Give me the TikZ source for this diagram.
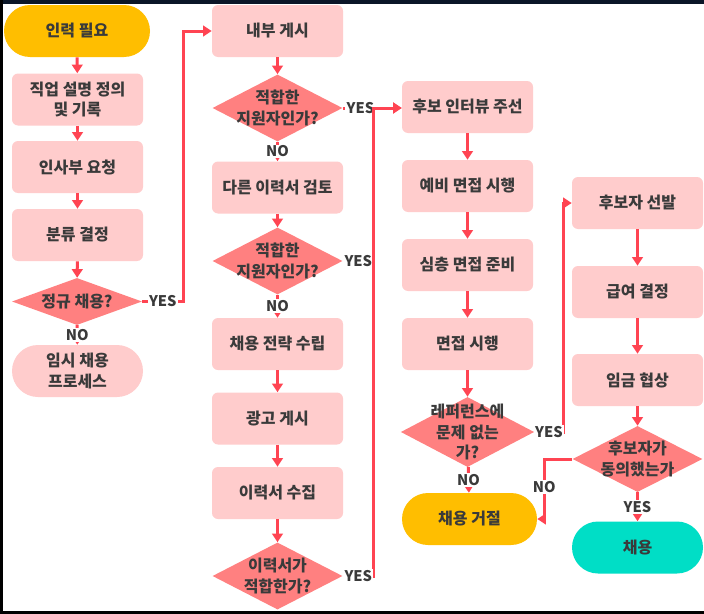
\documentclass[tikz,border=0pt]{standalone}
\usepackage{fontspec}
\setmainfont{Noto Sans CJK KR}
\usetikzlibrary{arrows.meta,shapes.geometric,positioning}
\definecolor{termorange}{RGB}{255,190,0}
\definecolor{boxpink}{RGB}{255,204,204}
\definecolor{decpink}{RGB}{255,128,128}
\definecolor{linered}{RGB}{255,68,82}
\definecolor{hireteal}{RGB}{0,222,198}
\definecolor{txtgray}{RGB}{58,58,58}
\definecolor{topnavy}{RGB}{10,22,40}

\begin{document}
\begin{tikzpicture}[x=0.75pt,y=-0.75pt,font=\fontsize{12}{15.5}\selectfont\bfseries,text=txtgray,
  box/.style={fill=boxpink,rounded corners=4.5pt,minimum width=98.25pt,minimum height=39pt,align=center},
  term/.style={box,rounded corners=19.5pt},
  dec/.style={diamond,fill=decpink,inner sep=0pt,minimum width=97.5pt,minimum height=50.25pt},
  ln/.style={draw=linered,line width=2.25pt},
  arr/.style={ln,-{Triangle[length=6.5pt,width=8pt]}},
  yn/.style={fill=white,inner sep=1pt,font=\fontsize{11}{12}\selectfont\bfseries}]
  \useasboundingbox[fill=white] (0,0) rectangle (704,614);
  \node[term,fill=termorange,minimum width=109.5pt] (need) at (77,31) {인력 필요};
  \foreach \n/\x/\y/\t in {jd/77.5/99.5/{직업 설명 정의\\및 기록},hr/77.5/167/인사부 요청,cls/77.5/235/분류 결정,post/277.5/31/내부 게시,other/277.5/187.5/다른 이력서 검토,strat/277.5/344/채용 전략 수립,ad/277.5/418.5/광고 게시,collect/277.5/493/이력서 수집,arrange/467.5/107/후보 인터뷰 주선,prelim/467.5/186/예비 면접 시행,deep/467.5/265/심층 면접 준비,interview/467.5/344/면접 시행,select/637.5/203/후보자 선발,wage/637.5/292/급여 결정,negot/637.5/380/임금 협상}
    \node[box] (\n) at (\x,\y) {\t};
  \node[dec,minimum height=35.25pt,label={[align=center]center:{정규 채용?}}] (d0) at (77,301.5) {};
  \node[dec,label={[align=center]center:{적합한\\지원자인가?}}] (d1) at (277.5,108) {};
  \node[dec,label={[align=center]center:{적합한\\지원자인가?}}] (d2) at (277.5,261) {};
  \node[dec,label={[align=center]center:{이력서가\\적합한가?}}] (d3) at (277.5,576) {};
  \node[dec,minimum width=100pt,minimum height=52.5pt,label={[align=center]center:{레퍼런스에\\문제 없는\\가?}}] (dref) at (467.5,432) {};
  \node[dec,minimum height=49.5pt,label={[align=center]center:{후보자가\\동의했는가}}] (dagree) at (637.5,459) {};
  \node[term] (temp) at (77.5,371) {임시 채용\\프로세스};
  \node[term,fill=termorange,minimum width=101.25pt] (reject) at (469.5,519) {채용 거절};
  \node[term,fill=hireteal] (hire) at (637.5,547.5) {채용};
  \foreach \a/\b in {need/jd,jd/hr,hr/cls,cls/d0,post/d1,other/d2,strat/ad,ad/collect,collect/d3,arrange/prelim,prelim/deep,deep/interview,interview/dref,select/wage,wage/negot,negot/dagree}
    \draw[arr] (\a) -- (\b);
  \draw[arr] (d0) -- node[yn]{NO} (temp);
  \draw[arr] (d1) -- node[yn]{NO} (other);
  \draw[arr] (d2) -- node[yn]{NO} (strat);
  \draw[arr] (dref) -- node[yn]{NO} (reject);
  \draw[arr] (dagree) -- node[yn]{YES} (hire);
  \draw[arr] (d0.east) -- node[yn]{YES} ++(41,0) |- (post.west);
  \draw[arr] (d1.east) -- node[yn,pos=0.3]{YES} (d1.east -| arrange.west);
  \draw[ln] (d2.east) -- node[yn]{YES} ++(31,0);
  \draw[arr] (d3.east) -- node[yn]{YES} ++(31,0) |- (d1.east -| arrange.west);
  \draw[arr] (dref.east) -- node[yn]{YES} ++(29,0) |- (select.west);
  \draw[arr] (dagree.west) -- ++(-28,0) |- node[yn,pos=0.23]{NO} (reject.east);
  \fill[topnavy] (0,0) rectangle (704,4);
  \fill[black] (0,0) rectangle (3,614);
  \fill[black] (0,611) rectangle (704,614);
\end{tikzpicture}
\end{document}
